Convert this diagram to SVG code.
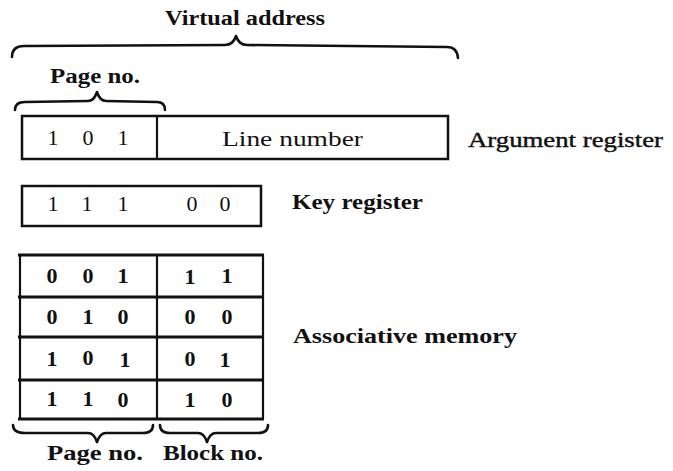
<svg xmlns="http://www.w3.org/2000/svg" width="673" height="471" viewBox="0 0 673 471">
<style>
text{font-family:"Liberation Serif","Times New Roman",serif;fill:#111;font-size:20px}
.b{font-weight:bold}
.c{text-anchor:middle}
.d{font-size:22px}
.h{stroke:#111;stroke-width:0.4}
.box{fill:none;stroke:#111;stroke-width:2.5}
.hl{stroke:#111;stroke-width:3}
.vl{stroke:#111;stroke-width:2.2}
.brace{fill:none;stroke:#111;stroke-width:2.6;stroke-linejoin:round;stroke-linecap:round}
</style>
<rect width="673" height="471" fill="#fff"/>
<g id="braces">
<path class="brace" d="M12,57 Q12,46 24,46 L225,45 Q233,45 236,36 Q239,45 247,45 L447,47 Q457,47 458,58"/>
<path class="brace" d="M15,110 Q15,102 25,102 L88,101 Q94,101 97,92 Q100,101 106,101 L157,102 Q165,102 165,110"/>
<path class="brace" d="M13,425 Q13,433 25,433 L88,433 Q94,433 97,442 Q100,433 106,433 L143,433 Q153,433 153,425"/>
<path class="brace" d="M160,425 Q160,433 170,433 L198,433 Q204,433 207,442 Q210,433 216,433 L258,433 Q268,433 268,425"/>
</g>
<g id="labels-top">
<text class="b" x="165" y="25" textLength="160" lengthAdjust="spacingAndGlyphs">Virtual address</text>
<text class="b" x="50" y="83" textLength="90" lengthAdjust="spacingAndGlyphs">Page no.</text>
</g>
<g id="argument-register">
<rect class="box" x="22" y="116" width="426" height="43"/>
<line class="vl" x1="157" y1="116" x2="157" y2="159"/>
<text class="c d" x="53" y="145">1</text>
<text class="c d" x="88" y="145">0</text>
<text class="c d" x="123" y="145">1</text>
<text x="222" y="146" textLength="141" lengthAdjust="spacingAndGlyphs">Line number</text>
<text class="h" x="468" y="147" textLength="195" lengthAdjust="spacingAndGlyphs">Argument register</text>
</g>
<g id="key-register">
<rect class="box" x="22" y="186" width="239" height="40"/>
<text class="c d" x="53" y="211">1</text>
<text class="c d" x="87" y="211">1</text>
<text class="c d" x="123" y="211">1</text>
<text class="c d" x="192" y="211">0</text>
<text class="c d" x="225" y="211">0</text>
<text class="b" x="292" y="209" textLength="131" lengthAdjust="spacingAndGlyphs">Key register</text>
</g>
<g id="associative-memory">
<line class="vl" x1="20" y1="255" x2="20" y2="419"/>
<line class="vl" x1="157" y1="255" x2="157" y2="419"/>
<line class="vl" x1="263" y1="255" x2="263" y2="419"/>
<line class="hl" x1="18" y1="255" x2="264" y2="255"/>
<line class="hl" x1="18" y1="297" x2="264" y2="297"/>
<line class="hl" x1="18" y1="337" x2="264" y2="337"/>
<line class="hl" x1="18" y1="380" x2="264" y2="380"/>
<line class="hl" x1="18" y1="419" x2="264" y2="419"/>
<text class="b c d" x="52" y="283">0</text><text class="b c d" x="88" y="283">0</text><text class="b c d" x="123" y="283">1</text>
<text class="b c d" x="190" y="284">1</text><text class="b c d" x="227" y="283">1</text>
<text class="b c d" x="52" y="324">0</text><text class="b c d" x="88" y="324">1</text><text class="b c d" x="123" y="324">0</text>
<text class="b c d" x="190" y="324">0</text><text class="b c d" x="227" y="324">0</text>
<text class="b c d" x="52" y="366">1</text><text class="b c d" x="88" y="365">0</text><text class="b c d" x="125" y="367">1</text>
<text class="b c d" x="190" y="366">0</text><text class="b c d" x="225" y="367">1</text>
<text class="b c d" x="52" y="406">1</text><text class="b c d" x="88" y="406">1</text><text class="b c d" x="123" y="407">0</text>
<text class="b c d" x="190" y="407">1</text><text class="b c d" x="227" y="407">0</text>
<text class="b" x="293" y="343" textLength="224" lengthAdjust="spacingAndGlyphs">Associative memory</text>
<text class="b" x="47" y="460" textLength="96" lengthAdjust="spacingAndGlyphs">Page no.</text>
<text class="b" x="163" y="460" textLength="100" lengthAdjust="spacingAndGlyphs">Block no.</text>
</g>
</svg>
